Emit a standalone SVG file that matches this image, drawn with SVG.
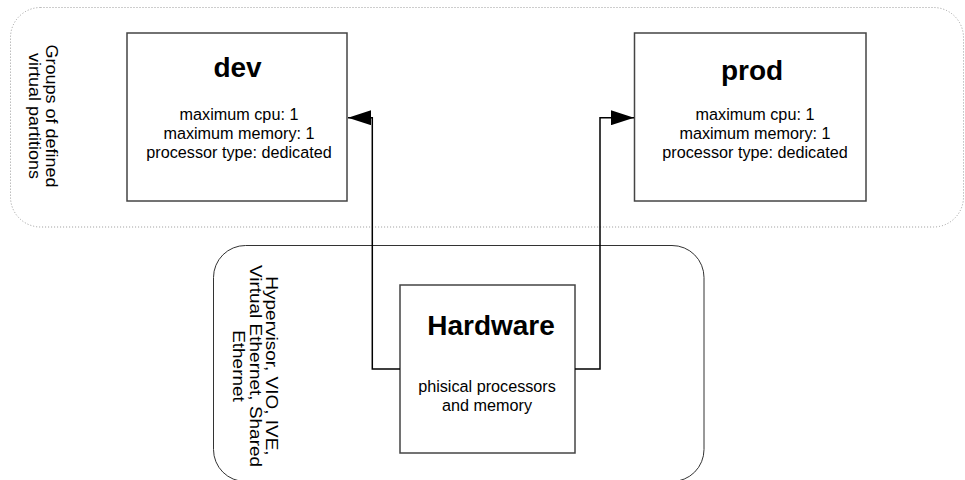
<svg xmlns="http://www.w3.org/2000/svg" width="965" height="480" viewBox="0 0 965 480">
<style>
.t{font-family:"Liberation Sans",Arial,sans-serif;fill:#000}
.title{font-size:28px;font-weight:bold;text-anchor:middle}
.body{font-size:17px;text-anchor:middle}
.rot{font-size:18px;text-anchor:middle}
.rot2{font-size:19px;text-anchor:middle}
.box{fill:#fff;stroke:#444;stroke-width:1.5}
.conn{fill:none;stroke:#000;stroke-width:1.5}
</style>
<defs>
<marker id="arr" viewBox="0 0 23 15" refX="23" refY="7.5" markerWidth="23" markerHeight="15" markerUnits="userSpaceOnUse" orient="auto">
<path d="M0,0 L23,7.5 L0,15 Z" fill="#000"/>
</marker>
</defs>
<rect width="965" height="480" fill="#fff"/>
<g id="lpars-group">
<rect x="10.5" y="7.5" width="953" height="219.5" rx="30" fill="none" stroke="#9a9a9a" stroke-width="1" stroke-dasharray="1,2"/>
<text class="t rot" transform="translate(46,116) rotate(90) scale(1,0.9)">Groups of defined</text>
<text class="t rot" transform="translate(29,116) rotate(90) scale(1,0.9)">virtual partitions</text>
</g>
<g id="hypervisor-group">
<rect x="213.5" y="245.5" width="490.5" height="236" rx="32" fill="none" stroke="#333" stroke-width="1"/>
<text class="t rot2" transform="translate(266,366) rotate(90) scale(1,0.88)">Hypervisor, VIO, IVE,</text>
<text class="t rot2" transform="translate(249.5,366) rotate(90) scale(1,0.88)">Virtual Ethernet, Shared</text>
<text class="t rot2" transform="translate(233,366) rotate(90) scale(1,0.88)">Ethernet</text>
</g>
<g id="dev">
<rect class="box" x="127" y="33" width="220" height="168"/>
<text class="t title" x="237.5" y="76.5">dev</text>
<text class="t body" transform="translate(239,119.5) scale(0.953,1)">maximum cpu: 1</text>
<text class="t body" transform="translate(239,138.5) scale(0.953,1)">maximum memory: 1</text>
<text class="t body" transform="translate(239,157.5) scale(0.953,1)">processor type: dedicated</text>
</g>
<g id="prod">
<rect class="box" x="634.5" y="33" width="231.5" height="168"/>
<text class="t title" x="752" y="79.5">prod</text>
<text class="t body" transform="translate(755,120) scale(0.953,1)">maximum cpu: 1</text>
<text class="t body" transform="translate(755,139) scale(0.953,1)">maximum memory: 1</text>
<text class="t body" transform="translate(755,158) scale(0.953,1)">processor type: dedicated</text>
</g>
<g id="hardware">
<rect class="box" x="400" y="285" width="175" height="168"/>
<text class="t title" x="491" y="335">Hardware</text>
<text class="t body" transform="translate(487,391.5) scale(0.953,1)">phisical processors</text>
<text class="t body" transform="translate(487,410.5) scale(0.953,1)">and memory</text>
</g>
<g id="connectors">
<path class="conn" d="M400,369 H372.3 V117.7 H348" marker-end="url(#arr)"/>
<path class="conn" d="M575,369 H600 V117.7 H634" marker-end="url(#arr)"/>
</g>
</svg>
